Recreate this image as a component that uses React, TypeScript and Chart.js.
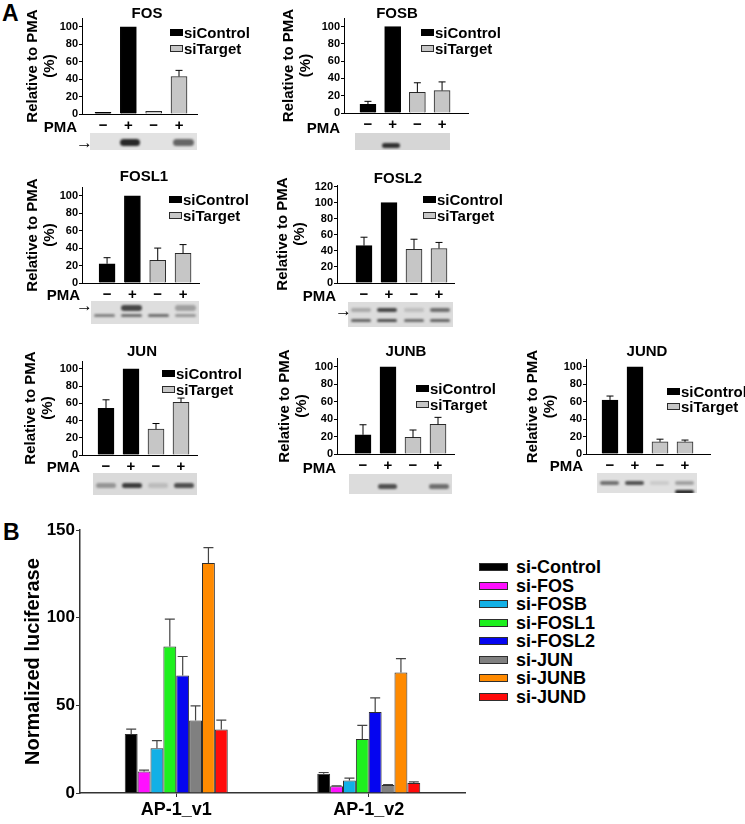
import React, { useEffect, useRef } from 'react';
import { Chart, registerables } from 'chart.js';

Chart.register(...registerables);

const FONT = '"Liberation Sans", Arial, Helvetica, sans-serif';
Chart.defaults.font.family = FONT;
Chart.defaults.color = '#000';

// ---------- Panel A data ----------
const PMA_LABELS = ['−', '+', '−', '+'];
const A_SERIES = ['siControl', 'siTarget'];
// lanes: siControl −, siControl +, siTarget −, siTarget +
const FOS_VALUES = [2, 100, 3, 43];
const FOS_ERRORS = [0, 0, 0, 7];
const FOSB_VALUES = [10, 100, 24, 26];
const FOSB_ERRORS = [3.5, 0, 11, 10];
const FOSL1_VALUES = [22, 100, 26, 34];
const FOSL1_ERRORS = [7, 0, 14, 10];
const FOSL2_VALUES = [46.5, 100, 42, 43];
const FOSL2_ERRORS = [10.5, 0, 12.5, 7.5];
const JUN_VALUES = [54, 100, 30, 61];
const JUN_ERRORS = [10, 0, 6.5, 5];
const JUNB_VALUES = [22, 100, 19, 34];
const JUNB_ERRORS = [11.5, 0, 8.5, 8];
const JUND_VALUES = [62, 100, 14, 14];
const JUND_ERRORS = [4.5, 0, 3, 2];

// ---------- Panel B data ----------
const LUC_CATEGORIES = ['AP-1_v1', 'AP-1_v2'];
const LUC_SERIES = ['si-Control', 'si-FOS', 'si-FOSB', 'si-FOSL1', 'si-FOSL2', 'si-JUN', 'si-JUNB', 'si-JUND'];
const LUC_CONTROL = [33.7, 11.0];
const LUC_FOS = [12.3, 3.8];
const LUC_FOSB = [25.5, 7.2];
const LUC_FOSL1 = [83.6, 30.8];
const LUC_FOSL2 = [67.1, 46.2];
const LUC_JUN = [41.4, 4.5];
const LUC_JUNB = [131.3, 68.8];
const LUC_JUND = [36.3, 5.7];
const LUC_CONTROL_ERR = [2.8, 0.7];
const LUC_FOS_ERR = [0.8, 0.3];
const LUC_FOSB_ERR = [4.4, 1.3];
const LUC_FOSL1_ERR = [15.7, 7.8];
const LUC_FOSL2_ERR = [10.8, 8.1];
const LUC_JUN_ERR = [8.3, 0.3];
const LUC_JUNB_ERR = [8.7, 7.9];
const LUC_JUND_ERR = [5.3, 0.7];
const LUC_Y_TICKS = [0, 50, 100, 150];

const LUC_MEANS = [LUC_CONTROL, LUC_FOS, LUC_FOSB, LUC_FOSL1, LUC_FOSL2, LUC_JUN, LUC_JUNB, LUC_JUND];
const LUC_ERRS = [LUC_CONTROL_ERR, LUC_FOS_ERR, LUC_FOSB_ERR, LUC_FOSL1_ERR, LUC_FOSL2_ERR, LUC_JUN_ERR, LUC_JUNB_ERR, LUC_JUND_ERR];
const LUC_COLORS = ['#000000', '#ff10ff', '#12b0e6', '#1ef01e', '#0505f0', '#808080', '#ff8a00', '#ff0a0a'];

// ---------- layout (styles) ----------
const YW = 65;
const PAD_T = 10;
const PAD_R = 8;
const XH = 24;

type Band = { y: number; h: number; lanes: number[] };
type BlotSpec = { x: number; y: number; w: number; h: number; bg: string; bands: Band[] };

const A_PANELS: any[] = [
  { name: 'FOS', values: FOS_VALUES, errors: FOS_ERRORS, L: 82, R: 197, T: 18, B: 114, ymax: 110, step: 20, xmin: 0.17, xmax: 4.71, titleX: 33,
    title: [147, 12], legend: [170, 32, 48], pma: [77, 126], arrow: [76, 142],
    blot: { x: 90, y: 133, w: 107, h: 17, bg: '#e2e2e2', bands: [{ y: 0.55, h: 7, lanes: [0, 0.9, 0, 0.6] }] } },
  { name: 'FOSB', values: FOSB_VALUES, errors: FOSB_ERRORS, L: 344, R: 468, T: 18, B: 113, ymax: 110, step: 20, xmin: 0.03, xmax: 5.05, titleX: 289,
    title: [397, 12], legend: [421, 32, 48], pma: [340, 127], arrow: null,
    blot: { x: 355, y: 133, w: 95, h: 17, bg: '#d6d6d6', bands: [{ y: 0.75, h: 5, lanes: [0, 0.85, 0, 0] }] } },
  { name: 'FOSL1', values: FOSL1_VALUES, errors: FOSL1_ERRORS, L: 82, R: 199, T: 187, B: 283, ymax: 110, step: 20, xmin: 0.01, xmax: 4.63, titleX: 33,
    title: [144, 175], legend: [169, 199, 215], pma: [80, 294], arrow: [76, 305],
    blot: { x: 91, y: 301, w: 108, h: 23, bg: '#dedede', bands: [{ y: 0.3, h: 6, lanes: [0, 0.75, 0, 0.3] }, { y: 0.65, h: 3, lanes: [0.45, 0.55, 0.55, 0.35] }] } },
  { name: 'FOSL2', values: FOSL2_VALUES, errors: FOSL2_ERRORS, L: 337, R: 454, T: 185, B: 283, ymax: 122, step: 20, xmin: -0.08, xmax: 4.6, titleX: 283,
    title: [398, 177], legend: [423, 199, 215], pma: [336, 295], arrow: [335, 310],
    blot: { x: 348, y: 302, w: 105, h: 25, bg: '#dcdcdc', bands: [{ y: 0.32, h: 4, lanes: [0.25, 0.75, 0.15, 0.55] }, { y: 0.72, h: 3, lanes: [0.6, 0.7, 0.55, 0.6] }] } },
  { name: 'JUN', values: JUN_VALUES, errors: JUN_ERRORS, L: 82, R: 197, T: 361, B: 455, ymax: 109, step: 20, xmin: 0.04, xmax: 4.64, titleX: 31,
    title: [142, 350], legend: [162, 373, 389], pma: [80, 466], arrow: null,
    blot: { x: 93, y: 473, w: 104, h: 22, bg: '#dadada', bands: [{ y: 0.55, h: 5, lanes: [0.35, 0.8, 0.15, 0.7] }] } },
  { name: 'JUNB', values: JUNB_VALUES, errors: JUNB_ERRORS, L: 337, R: 454, T: 358, B: 454, ymax: 110, step: 20, xmin: -0.04, xmax: 4.64, titleX: 285,
    title: [406, 350], legend: [416, 388, 404], pma: [336, 467], arrow: null,
    blot: { x: 349, y: 474, w: 103, h: 20, bg: '#dcdcdc', bands: [{ y: 0.6, h: 5, lanes: [0, 0.7, 0, 0.55] }] } },
  { name: 'JUND', values: JUND_VALUES, errors: JUND_ERRORS, L: 586, R: 710, T: 359, B: 454, ymax: 109, step: 20, xmin: 0.04, xmax: 5.0, titleX: 533,
    title: [647, 350], legend: [667, 391, 406], pma: [583, 465], arrow: null,
    blot: { x: 597, y: 473, w: 100, h: 20, bg: '#e0e0e0', bands: [{ y: 0.5, h: 4, lanes: [0.55, 0.7, 0.1, 0.3] }, { y: 0.95, h: 4, lanes: [0, 0, 0, 0.9] }] } },
];

// ---------- error bar plugin ----------
const errorBarPlugin = {
  id: 'errorBars',
  afterDatasetsDraw(chart: any, _args: any, opts: any) {
    const ctx = chart.ctx;
    const yScale = chart.scales.y;
    chart.data.datasets.forEach((ds: any, i: number) => {
      const errs = ds.errorBars;
      if (!errs) return;
      const meta = chart.getDatasetMeta(i);
      meta.data.forEach((bar: any, j: number) => {
        const raw = ds.data[j];
        const v = raw !== null && typeof raw === 'object' ? raw.y : raw;
        const e = errs[j];
        if (v == null || !e) return;
        const yTop = yScale.getPixelForValue(v + e);
        ctx.save();
        ctx.strokeStyle = opts.color || '#000';
        ctx.lineWidth = opts.width || 1;
        ctx.beginPath();
        ctx.moveTo(bar.x, bar.y);
        ctx.lineTo(bar.x, yTop);
        ctx.moveTo(bar.x - opts.cap / 2, yTop);
        ctx.lineTo(bar.x + opts.cap / 2, yTop);
        ctx.stroke();
        ctx.restore();
      });
    });
  },
};

// ---------- helpers ----------
function Txt({ x, y, size, children, align = 'center', weight = 'bold' }: any) {
  const tr = align === 'center' ? 'translate(-50%,-50%)' : align === 'right' ? 'translate(-100%,-50%)' : 'translate(0,-50%)';
  return (
    <div style={{ position: 'absolute', left: x, top: y, fontSize: size, fontWeight: weight as any, lineHeight: 1, whiteSpace: 'nowrap', transform: tr, color: '#000' }}>
      {children}
    </div>
  );
}

function Blot({ spec }: { spec: BlotSpec }) {
  const laneW = spec.w / 4;
  return (
    <div style={{ position: 'absolute', left: spec.x, top: spec.y, width: spec.w, height: spec.h, background: spec.bg, overflow: 'hidden' }}>
      {spec.bands.map((b, bi) =>
        b.lanes.map((v, li) =>
          v > 0 ? (
            <div key={bi + '-' + li} style={{ position: 'absolute', left: li * laneW + laneW * 0.12, width: laneW * 0.76, top: b.y * spec.h - b.h / 2, height: b.h, borderRadius: b.h / 2, background: `rgba(20,20,20,${v})`, filter: 'blur(1px)' }} />
          ) : null
        )
      )}
    </div>
  );
}

function PanelA({ p }: any) {
  const ref = useRef<HTMLCanvasElement>(null);
  const left = p.L - YW;
  const top = p.T - PAD_T;
  const width = YW + (p.R - p.L) + PAD_R;
  const height = PAD_T + (p.B - p.T) + XH;
  useEffect(() => {
    const titleLH = 15 * 1.1;
    const chart = new Chart(ref.current as HTMLCanvasElement, {
      type: 'bar',
      data: {
        datasets: A_SERIES.map((s, si) => ({
          label: s,
          data: p.values.map((y: number, i: number) => ({ x: i + 1, y })).filter((_: any, i: number) => (i < 2 ? 0 : 1) === si),
          errorBars: p.errors.filter((_: any, i: number) => (i < 2 ? 0 : 1) === si),
          backgroundColor: si === 0 ? '#000000' : '#c6c6c6',
          borderColor: si === 0 ? '#000000' : '#2a2a2a',
          borderWidth: 1,
        })) as any,
      },
      options: {
        animation: false,
        responsive: false,
        maintainAspectRatio: false,
        layout: { padding: { top: PAD_T, right: PAD_R, left: 0, bottom: 0 } },
        datasets: { bar: { grouped: false, barThickness: 16 } } as any,
        plugins: {
          legend: { display: false },
          title: { display: false },
          tooltip: { enabled: false },
          errorBars: { color: '#000', width: 1, cap: 7 },
        } as any,
        scales: {
          x: {
            type: 'linear',
            min: p.xmin,
            max: p.xmax,
            offset: false,
            afterBuildTicks: (s: any) => { s.ticks = PMA_LABELS.map((_, i) => ({ value: i + 1 })); },
            ticks: {
              autoSkip: false,
              maxRotation: 0,
              padding: 3,
              font: { size: 15, weight: 'bold' },
              color: '#000',
              callback: (v: any) => PMA_LABELS[Math.round(Number(v)) - 1] ?? '',
            },
            grid: { display: false, drawTicks: false },
            border: { display: true, color: '#000', width: 1 },
            afterFit: (s: any) => { s.height = XH; },
          } as any,
          y: {
            min: 0,
            max: p.ymax,
            ticks: { stepSize: p.step, includeBounds: false, padding: 1, font: { size: 11, weight: 'bold' }, color: '#000' },
            grid: { display: true, drawOnChartArea: false, drawTicks: true, tickLength: 3, color: '#000' },
            border: { display: true, color: '#000', width: 1 },
            title: {
              display: true,
              text: ['Relative to PMA', '(%)'],
              color: '#000',
              font: { size: 15, weight: 'bold', lineHeight: 1.1 },
              padding: { top: p.titleX - left - titleLH / 2, bottom: 0 },
            },
            afterFit: (s: any) => { s.width = YW; },
          } as any,
        },
      },
      plugins: [errorBarPlugin as any],
    });
    return () => chart.destroy();
  }, []);
  const [lx, ly1, ly2] = p.legend;
  return (
    <>
      <canvas ref={ref} width={width} height={height} style={{ position: 'absolute', left, top, width, height, display: 'block' }} />
      <Txt x={p.title[0]} y={p.title[1]} size={15}>{p.name}</Txt>
      <div style={{ position: 'absolute', left: lx, top: ly1 - 3, width: 13, height: 7, background: '#000' }} />
      <Txt x={lx + 14} y={ly1} size={15} align="left">{A_SERIES[0]}</Txt>
      <div style={{ position: 'absolute', left: lx, top: ly2 - 3, width: 13, height: 7, background: '#c6c6c6', border: '1px solid #2a2a2a', boxSizing: 'border-box' }} />
      <Txt x={lx + 14} y={ly2} size={15} align="left">{A_SERIES[1]}</Txt>
      <Txt x={p.pma[0]} y={p.pma[1]} size={15} align="right">PMA</Txt>
      <Blot spec={p.blot} />
      {p.arrow ? <Txt x={p.arrow[0]} y={p.arrow[1]} size={17} align="left" weight="normal">→</Txt> : null}
    </>
  );
}

const B_L = 80;
const B_R = 465;
const B_T = 529;
const B_B = 793;
const B_XH = 30;

function PanelB() {
  const ref = useRef<HTMLCanvasElement>(null);
  const left = 0;
  const top = B_T - PAD_T;
  const width = B_L + (B_R - B_L) + PAD_R;
  const height = PAD_T + (B_B - B_T) + B_XH;
  useEffect(() => {
    const chart = new Chart(ref.current as HTMLCanvasElement, {
      type: 'bar',
      data: {
        labels: LUC_CATEGORIES,
        datasets: LUC_SERIES.map((s, i) => ({
          label: s,
          data: LUC_MEANS[i],
          errorBars: LUC_ERRS[i],
          backgroundColor: LUC_COLORS[i],
          borderColor: '#2e2e2e',
          borderWidth: 1,
        })) as any,
      },
      options: {
        animation: false,
        responsive: false,
        maintainAspectRatio: false,
        layout: { padding: { top: PAD_T, right: PAD_R, left: 0, bottom: 0 } },
        datasets: { bar: { categoryPercentage: 0.535, barPercentage: 1 } } as any,
        plugins: {
          legend: { display: false },
          title: { display: false },
          tooltip: { enabled: false },
          errorBars: { color: '#444', width: 1.2, cap: 10 },
        } as any,
        scales: {
          x: {
            ticks: { padding: 2, font: { size: 18, weight: 'bold' }, color: '#000', maxRotation: 0 },
            grid: { display: true, drawOnChartArea: false, drawTicks: true, tickLength: 4, color: '#333', offset: false },
            border: { display: true, color: '#333', width: 1.5 },
            afterFit: (s: any) => { s.height = B_XH; },
          } as any,
          y: {
            min: 0,
            max: 150,
            afterBuildTicks: (s: any) => { s.ticks = LUC_Y_TICKS.map((v) => ({ value: v })); },
            ticks: { padding: 1, font: { size: 17, weight: 'bold' }, color: '#000' },
            grid: { display: true, drawOnChartArea: false, drawTicks: true, tickLength: 4, color: '#333' },
            border: { display: true, color: '#333', width: 1.5 },
            title: {
              display: true,
              text: 'Normalized luciferase',
              color: '#000',
              font: { size: 20, weight: 'bold', lineHeight: 1.2 },
              padding: { top: 33 - left - 12, bottom: 0 },
            },
            afterFit: (s: any) => { s.width = B_L; },
          } as any,
        },
      },
      plugins: [errorBarPlugin as any],
    });
    return () => chart.destroy();
  }, []);
  return (
    <>
      <canvas ref={ref} width={width} height={height} style={{ position: 'absolute', left, top, width, height, display: 'block' }} />
      {LUC_SERIES.map((s, i) => {
        const cy = 567 + i * 18.57;
        return (
          <React.Fragment key={s}>
            <div style={{ position: 'absolute', left: 479, top: cy - 4, width: 29, height: 8, background: LUC_COLORS[i], border: '1px solid #2e2e2e', boxSizing: 'border-box' }} />
            <Txt x={516} y={cy} size={18} align="left">{s}</Txt>
          </React.Fragment>
        );
      })}
    </>
  );
}

export default function App() {
  return (
    <div style={{ position: 'absolute', left: 0, top: 0, width: 745, height: 824, overflow: 'hidden', background: '#fff', fontFamily: FONT }}>
      <Txt x={2} y={13} size={23} align="left">A</Txt>
      {A_PANELS.map((p) => <PanelA key={p.name} p={p} />)}
      <Txt x={3} y={532} size={23} align="left">B</Txt>
      <PanelB />
    </div>
  );
}
